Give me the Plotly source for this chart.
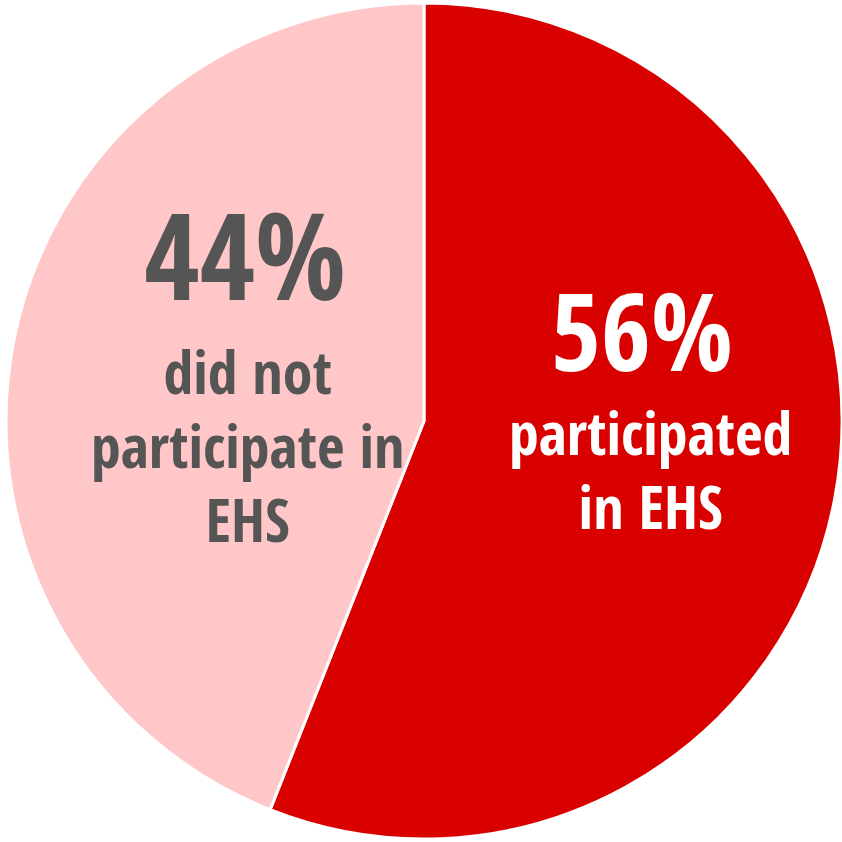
import plotly.graph_objects as go

labels = ["participated in EHS", "did not participate in EHS"]
values = [56, 44]
colors = ["#D90000", "#FFC7C8"]
pct_labels = ["56%", "44%"]
desc_lines = [["participated", "in EHS"], ["did not", "participate in", "EHS"]]

fig = go.Figure(go.Pie(
    labels=labels, values=values, sort=False, direction="clockwise", rotation=0,
    marker=dict(colors=colors, line=dict(color="white", width=3)),
    textinfo="none", hoverinfo="label+percent", showlegend=False,
))

W = 842
def px(x):
    return x / W
def py(y):
    return 1 - y / W

def desc(lines):
    return "<br>".join('<span style="font-size:60px">' + s + "</span>" for s in lines)

font = "Open Sans Condensed, Open Sans, sans-serif"
white = "white"
gray = "#555555"
ann = [
    # participated slice
    dict(x=px(641), y=py(329), text=pct_labels[0], font=dict(size=108, color=white, family=font)),
    dict(x=px(649), y=py(469), text=desc(desc_lines[0]), font=dict(size=57, color=white, family=font)),
    # did not participate slice
    dict(x=px(241), y=py(253), text=pct_labels[1], font=dict(size=120, color=gray, family=font)),
    dict(x=px(243), y=py(445), text=desc(desc_lines[1]), font=dict(size=57, color=gray, family=font)),
]
for a in ann:
    a.update(xref="paper", yref="paper", showarrow=False, xanchor="center", yanchor="middle", align="center")

fig.update_layout(
    width=842, height=842,
    margin=dict(l=6, r=0, t=0, b=0),
    paper_bgcolor="white", plot_bgcolor="white",
    annotations=ann,
)
fig.write_html("out.html", post_script="document.body.style.margin='0';",
               config={"displayModeBar": False})
